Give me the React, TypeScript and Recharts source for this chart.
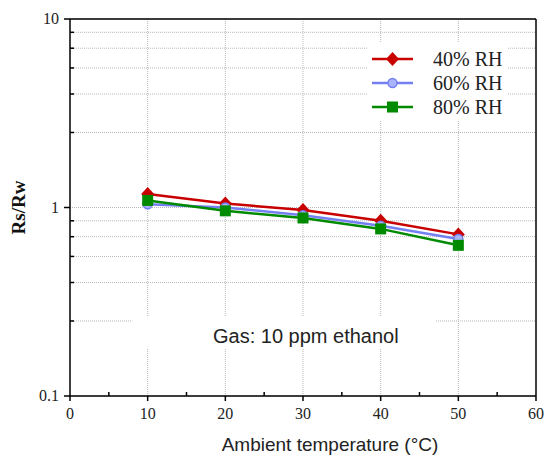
import React from 'react';
import {
  LineChart,
  Line,
  XAxis,
  YAxis,
  CartesianGrid,
  ReferenceLine,
  ReferenceArea,
  Legend
} from 'recharts';

// ambient temperature (°C)
const temps = [10, 20, 30, 40, 50];
// Rs/Rw for each humidity level
const rh40 = [1.18, 1.05, 0.97, 0.85, 0.72];
const rh60 = [1.04, 1.0, 0.91, 0.8, 0.68];
const rh80 = [1.09, 0.96, 0.88, 0.77, 0.63];

const xTicks = [0, 5, 10, 15, 20, 25, 30, 35, 40, 45, 50, 55, 60];
const xGrid = [10, 20, 30, 40, 50];
const yMajor = [0.1, 1, 10];
const yTicks = [0.1, 0.25, 0.4, 0.55, 0.7, 0.85, 1, 2.5, 4, 5.5, 7, 8.5, 10];

const series = [
  { key: 'rh40', name: '40% RH', color: '#c80000', shape: 'diamond' },
  { key: 'rh60', name: '60% RH', color: '#7480f2', shape: 'circle' },
  { key: 'rh80', name: '80% RH', color: '#008a00', shape: 'square' }
];

const data = temps.map((t, i) => ({ t, rh40: rh40[i], rh60: rh60[i], rh80: rh80[i] }));

const serif = '"Liberation Serif", "Times New Roman", serif';
const sans = '"Liberation Sans", Arial, sans-serif';

const Marker = ({ shape, color, cx, cy }: any) => {
  if (shape === 'diamond') {
    return <path d={`M${cx},${cy - 7}L${cx + 6.5},${cy}L${cx},${cy + 7}L${cx - 6.5},${cy}Z`} fill={color} />;
  }
  if (shape === 'square') {
    return <rect x={cx - 5.5} y={cy - 5.5} width={11} height={11} fill={color} />;
  }
  return <circle cx={cx} cy={cy} r={4.5} fill="#a9b4fb" stroke={color} strokeWidth={1.5} />;
};

const XTick = ({ x, y, payload }: any) => {
  const major = payload.value % 10 === 0;
  return (
    <g>
      {major ? (
        <>
          <line x1={x} x2={x} y1={y} y2={y + 5} stroke="#000" strokeWidth={1.5} />
          <text x={x} y={y + 23} textAnchor="middle" fontFamily={serif} fontSize={16} fill="#222">
            {payload.value}
          </text>
        </>
      ) : (
        <line x1={x} x2={x} y1={y} y2={y - 4} stroke="#000" strokeWidth={1.5} />
      )}
    </g>
  );
};

const YTick = ({ x, y, payload }: any) => {
  const major = yMajor.includes(payload.value);
  return (
    <g>
      {major ? (
        <>
          <line x1={x} x2={x - 6} y1={y} y2={y} stroke="#000" strokeWidth={1.5} />
          <text x={x - 11} y={y + 5} textAnchor="end" fontFamily={serif} fontSize={16} fill="#222">
            {payload.value}
          </text>
        </>
      ) : (
        <line x1={x} x2={x + 4} y1={y} y2={y} stroke="#000" strokeWidth={1.5} />
      )}
    </g>
  );
};

const renderLegend = () => (
  <div style={{ background: '#fff', width: 140, height: 77, paddingTop: 4, boxSizing: 'border-box' }}>
    {series.map(s => (
      <div key={s.key} style={{ display: 'flex', alignItems: 'center', height: 24 }}>
        <svg width={66} height={20} style={{ display: 'block' }}>
          <line x1={5} x2={46} y1={10} y2={10} stroke={s.color} strokeWidth={2.5} />
          <Marker shape={s.shape} color={s.color} cx={25.5} cy={10} />
        </svg>
        <span style={{ fontFamily: serif, fontSize: 20, color: '#222' }}>{s.name}</span>
      </div>
    ))}
  </div>
);

const App = () => {
  return (
    <div style={{ position: 'absolute', left: 0, top: 0, width: 546, height: 457, background: '#fff' }}>
      <LineChart width={546} height={457} data={data} margin={{ top: 19, right: 10, bottom: 0, left: 0 }}>
        <CartesianGrid
          stroke="#b8b8b8"
          strokeDasharray="1 1"
          verticalValues={xGrid}
          horizontalValues={yTicks}
        />
        <ReferenceArea x1={8} x2={47} y1={0.18} y2={0.265} fill="#fff" fillOpacity={1} stroke="none" />
        <XAxis
          dataKey="t"
          type="number"
          domain={[0, 60]}
          ticks={xTicks}
          interval={0}
          height={61}
          tickSize={0}
          tickMargin={0}
          tickLine={false}
          tick={<XTick />}
          axisLine={{ stroke: '#000', strokeWidth: 1.5 }}
          label={{
            value: 'Ambient temperature (°C)',
            position: 'insideBottom',
            offset: 6,
            dx: 27,
            style: { fontFamily: sans, fontSize: 19, fill: '#222' }
          }}
        />
        <YAxis
          scale="log"
          domain={[0.1, 10]}
          type="number"
          allowDataOverflow
          ticks={yTicks}
          interval={0}
          width={70}
          tickSize={0}
          tickMargin={0}
          tickLine={false}
          tick={<YTick />}
          axisLine={{ stroke: '#000', strokeWidth: 1.5 }}
          label={{
            value: 'Rs/Rw',
            angle: -90,
            position: 'insideLeft',
            offset: 18,
            style: { fontFamily: serif, fontSize: 19, fontWeight: 'bold', fill: '#111', textAnchor: 'middle' }
          }}
        />
        <ReferenceLine y={10} stroke="#000" strokeWidth={1.5} />
        <ReferenceLine x={60} stroke="#000" strokeWidth={1.5} />
        <Legend
          layout="vertical"
          align="center"
          verticalAlign="middle"
          content={renderLegend}
          wrapperStyle={{ left: 367, top: 43, width: 140, height: 77 }}
        />
        {series.map(s => (
          <Line
            key={s.key}
            dataKey={s.key}
            name={s.name}
            stroke={s.color}
            strokeWidth={2.5}
            isAnimationActive={false}
            dot={(p: any) => <Marker key={`${s.key}-${p.index}`} shape={s.shape} color={s.color} cx={p.cx} cy={p.cy} />}
            activeDot={false}
          />
        ))}
      </LineChart>
      <div
        style={{
          position: 'absolute',
          left: 213,
          top: 325,
          fontFamily: sans,
          fontSize: 20,
          color: '#222',
          whiteSpace: 'nowrap'
        }}
      >
        Gas: 10 ppm ethanol
      </div>
    </div>
  );
};

export default App;
